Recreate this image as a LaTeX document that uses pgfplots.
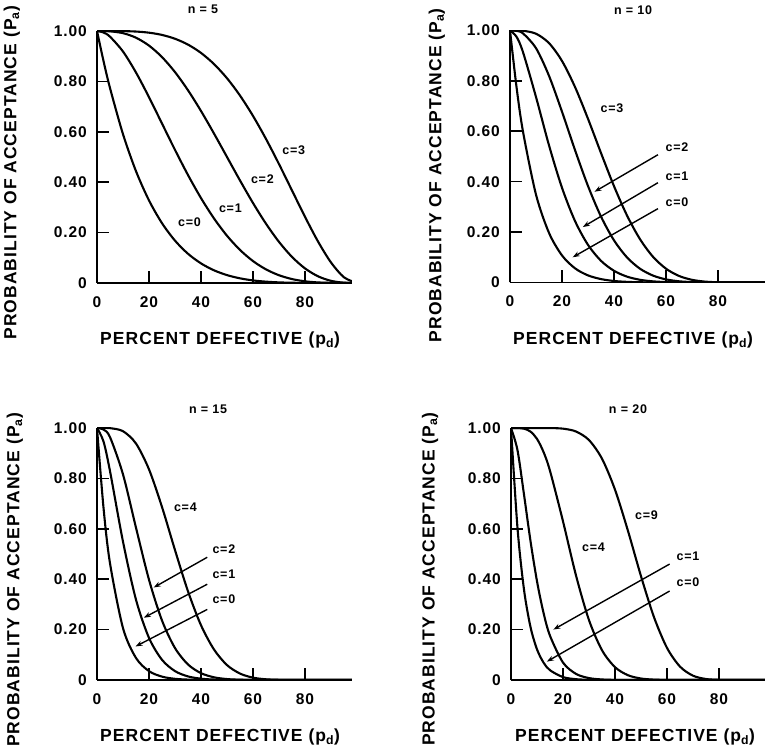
\documentclass[border=0pt]{standalone}
\usepackage{fontspec}
\setmainfont{Liberation Sans}
\newfontfamily\lab{Liberation Sans}[LetterSpace=6]
\usepackage{pgfplots}
\pgfplotsset{compat=1.18}
\usepackage{pgfplotstable}
\usetikzlibrary{arrows.meta}

\pgfplotstableread{
p c0 c1 c2 c3
0 1 1 1 1
2.5 .8811 .9941 .9999 1
5 .7738 .9774 .9988 1
10 .5905 .9185 .9914 .9995
15 .4437 .8352 .9734 .9978
20 .3277 .7373 .9421 .9933
25 .2373 .6328 .8965 .9844
30 .1681 .5282 .8369 .9692
35 .1160 .4284 .7648 .9460
40 .0778 .3370 .6826 .9130
45 .0503 .2562 .5931 .8688
50 .0313 .1875 .5000 .8125
55 .0185 .1312 .4069 .7438
60 .0102 .0870 .3174 .6630
65 .0053 .0540 .2352 .5716
70 .0024 .0308 .1631 .4718
75 .0010 .0156 .1035 .3672
80 .0003 .0067 .0579 .2627
85 .0001 .0022 .0266 .1648
90 0 .0005 .0086 .0815
95 0 0 .0012 .0226
100 0 0 0 0
}\nfive

\pgfplotstableread{
p c0 c1 c2 c3
0 1 1 1 1
2.5 .7763 .9753 .9983 .9999
5 .5987 .9139 .9885 .9990
10 .3487 .7361 .9298 .9872
15 .1969 .5443 .8202 .9500
20 .1074 .3758 .6778 .8791
25 .0563 .2440 .5256 .7759
30 .0282 .1493 .3828 .6496
35 .0135 .0860 .2616 .5138
40 .0060 .0464 .1673 .3823
45 .0025 .0233 .0996 .2660
50 .0010 .0107 .0547 .1719
55 .0003 .0045 .0274 .1020
60 .0001 .0017 .0123 .0548
65 0 .0005 .0048 .0260
70 0 .0001 .0016 .0106
75 0 0 .0004 .0035
80 0 0 .0001 .0009
85 0 0 0 .0001
90 0 0 0 0
100 0 0 0 0
}\nten

\pgfplotstableread{
p c0 c1 c2 c4
0 1 1 1 1
2.5 .6840 .9466 .9938 .9999
5 .4633 .8290 .9638 .9994
10 .2059 .5490 .8159 .9873
15 .0874 .3186 .6042 .9383
20 .0352 .1671 .3980 .8358
25 .0134 .0802 .2361 .6865
30 .0047 .0353 .1268 .5155
35 .0016 .0142 .0617 .3519
40 .0005 .0052 .0271 .2173
45 .0001 .0017 .0107 .1211
50 0 .0005 .0037 .0592
55 0 .0001 .0011 .0255
60 0 0 .0003 .0093
65 0 0 0 .0028
70 0 0 0 .0007
75 0 0 0 .0001
80 0 0 0 0
100 0 0 0 0
}\nfifteen

\pgfplotstableread{
p c0 c1 c4 c9
0 1 1 1 1
2.5 .6027 .9118 .9997 1
5 .3585 .7358 .9974 1
7.5 .2103 .5513 .9858 1
10 .1216 .3917 .9568 1
12.5 .0692 .2670 .9050 1
15 .0388 .1756 .8299 .9998
20 .0115 .0692 .6296 .9974
25 .0032 .0243 .4148 .9861
30 .0008 .0076 .2375 .9520
35 .0002 .0021 .1182 .8782
40 0 .0005 .0510 .7553
45 0 .0001 .0189 .5914
50 0 0 .0059 .4119
55 0 0 .0015 .2493
60 0 0 .0003 .1275
65 0 0 .0001 .0532
70 0 0 0 .0171
75 0 0 0 .0039
80 0 0 0 .0006
85 0 0 0 .0001
90 0 0 0 0
100 0 0 0 0
}\ntwenty

\pgfplotsset{oc/.style={
  x=2.6bp, y=252bp, xmin=0, xmax=98, ymin=0, ymax=1,
  scale only axis, anchor=south west,
  axis lines=left, axis line style={-, line width=1.8bp},
  tick align=inside, major tick length=12bp,
  tick style={black, line width=1.6bp},
  xtick={0,20,40,60,80}, xticklabels={0,20,40,60,80},
  ytick={0,0.2,0.4,0.6,0.8,1}, yticklabels={0,0.20,0.40,0.60,0.80,1.00},
  ticklabel style={font=\lab\bfseries\fontsize{15.5bp}{18bp}\selectfont, inner sep=0pt},
  yticklabel style={anchor=east, xshift=-10bp},
  xticklabel style={anchor=north, yshift=-13bp},
  label style={font=\lab\bfseries\fontsize{17.5bp}{20bp}\selectfont},
  title style={font=\lab\bfseries\fontsize{12.5bp}{14bp}\selectfont, anchor=center},
  xlabel={PERCENT DEFECTIVE (p\textsubscript{d})},
  ylabel={PROBABILITY OF ACCEPTANCE (P\textsubscript{a})},
}}
\tikzset{
  cv/.style={black, line width=2.1bp, smooth, mark=none},
  cl/.style={font=\lab\bfseries\fontsize{12.5bp}{14bp}\selectfont, inner sep=0pt},
  ld/.style={line width=1.4bp, -{Stealth[length=7bp,width=5bp]}},
}

\begin{document}
\begin{tikzpicture}
\useasboundingbox (0,0) rectangle (765bp,754bp);

% n = 5
\begin{axis}[oc, at={(97bp,471bp)},
  title={n = 5}, title style={at={(axis description cs:0.416,1.063)}},
  xlabel style={at={(axis description cs:0.483,-0.226)}, anchor=center},
  ylabel style={at={(axis description cs:-0.334,0.437)}, anchor=center}]
\addplot[cv] table[x=p,y=c0] {\nfive};
\addplot[cv] table[x=p,y=c1] {\nfive};
\addplot[cv] table[x=p,y=c2] {\nfive};
\addplot[cv] table[x=p,y=c3] {\nfive};
\node[cl] at (axis cs:75.7,0.526) {c=3};
\node[cl] at (axis cs:63.6,0.41) {c=2};
\node[cl] at (axis cs:51.3,0.297) {c=1};
\node[cl] at (axis cs:35.6,0.24) {c=0};
\end{axis}

% n = 10
\begin{axis}[oc, at={(510bp,471.5bp)},
  title={n = 10}, title style={at={(axis description cs:0.483,1.056)}},
  xlabel style={at={(axis description cs:0.483,-0.23)}, anchor=center},
  ylabel style={at={(axis description cs:-0.287,0.425)}, anchor=center}]
\addplot[cv] table[x=p,y=c0] {\nten};
\addplot[cv] table[x=p,y=c1] {\nten};
\addplot[cv] table[x=p,y=c2] {\nten};
\addplot[cv] table[x=p,y=c3] {\nten};
\node[cl] at (axis cs:39.2,0.69) {c=3};
\node[cl] at (axis cs:64.2,0.535) {c=2};
\node[cl] at (axis cs:64.2,0.423) {c=1};
\node[cl] at (axis cs:64.2,0.32) {c=0};
\draw[ld] (axis cs:56.9,0.507) -- (axis cs:32.5,0.36);
\draw[ld] (axis cs:56.9,0.396) -- (axis cs:28,0.22);
\draw[ld] (axis cs:56.9,0.293) -- (axis cs:24.1,0.10);
\end{axis}

% n = 15
\begin{axis}[oc, at={(97bp,74bp)},
  title={n = 15}, title style={at={(axis description cs:0.436,1.052)}},
  xlabel style={at={(axis description cs:0.483,-0.226)}, anchor=center},
  ylabel style={at={(axis description cs:-0.322,0.397)}, anchor=center}]
\addplot[cv] table[x=p,y=c0] {\nfifteen};
\addplot[cv] table[x=p,y=c1] {\nfifteen};
\addplot[cv] table[x=p,y=c2] {\nfifteen};
\addplot[cv] table[x=p,y=c4] {\nfifteen};
\node[cl] at (axis cs:34,0.687) {c=4};
\node[cl] at (axis cs:48.8,0.52) {c=2};
\node[cl] at (axis cs:48.8,0.42) {c=1};
\node[cl] at (axis cs:48.8,0.32) {c=0};
\draw[ld] (axis cs:42.4,0.487) -- (axis cs:21.8,0.367);
\draw[ld] (axis cs:42.4,0.38) -- (axis cs:18,0.247);
\draw[ld] (axis cs:42.4,0.28) -- (axis cs:14.8,0.133);
\end{axis}

% n = 20
\begin{axis}[oc, at={(511bp,74bp)},
  title={n = 20}, title style={at={(axis description cs:0.459,1.052)}},
  xlabel style={at={(axis description cs:0.487,-0.226)}, anchor=center},
  ylabel style={at={(axis description cs:-0.318,0.40)}, anchor=center}]
\addplot[cv] table[x=p,y=c0] {\ntwenty};
\addplot[cv] table[x=p,y=c1] {\ntwenty};
\addplot[cv] table[x=p,y=c4] {\ntwenty};
\addplot[cv] table[x=p,y=c9] {\ntwenty};
\node[cl] at (axis cs:52.1,0.653) {c=9};
\node[cl] at (axis cs:31.7,0.527) {c=4};
\node[cl] at (axis cs:68.1,0.493) {c=1};
\node[cl] at (axis cs:68.1,0.387) {c=0};
\draw[ld] (axis cs:61,0.46) -- (axis cs:16.3,0.20);
\draw[ld] (axis cs:61,0.353) -- (axis cs:13.8,0.073);
\end{axis}
\end{tikzpicture}
\end{document}
